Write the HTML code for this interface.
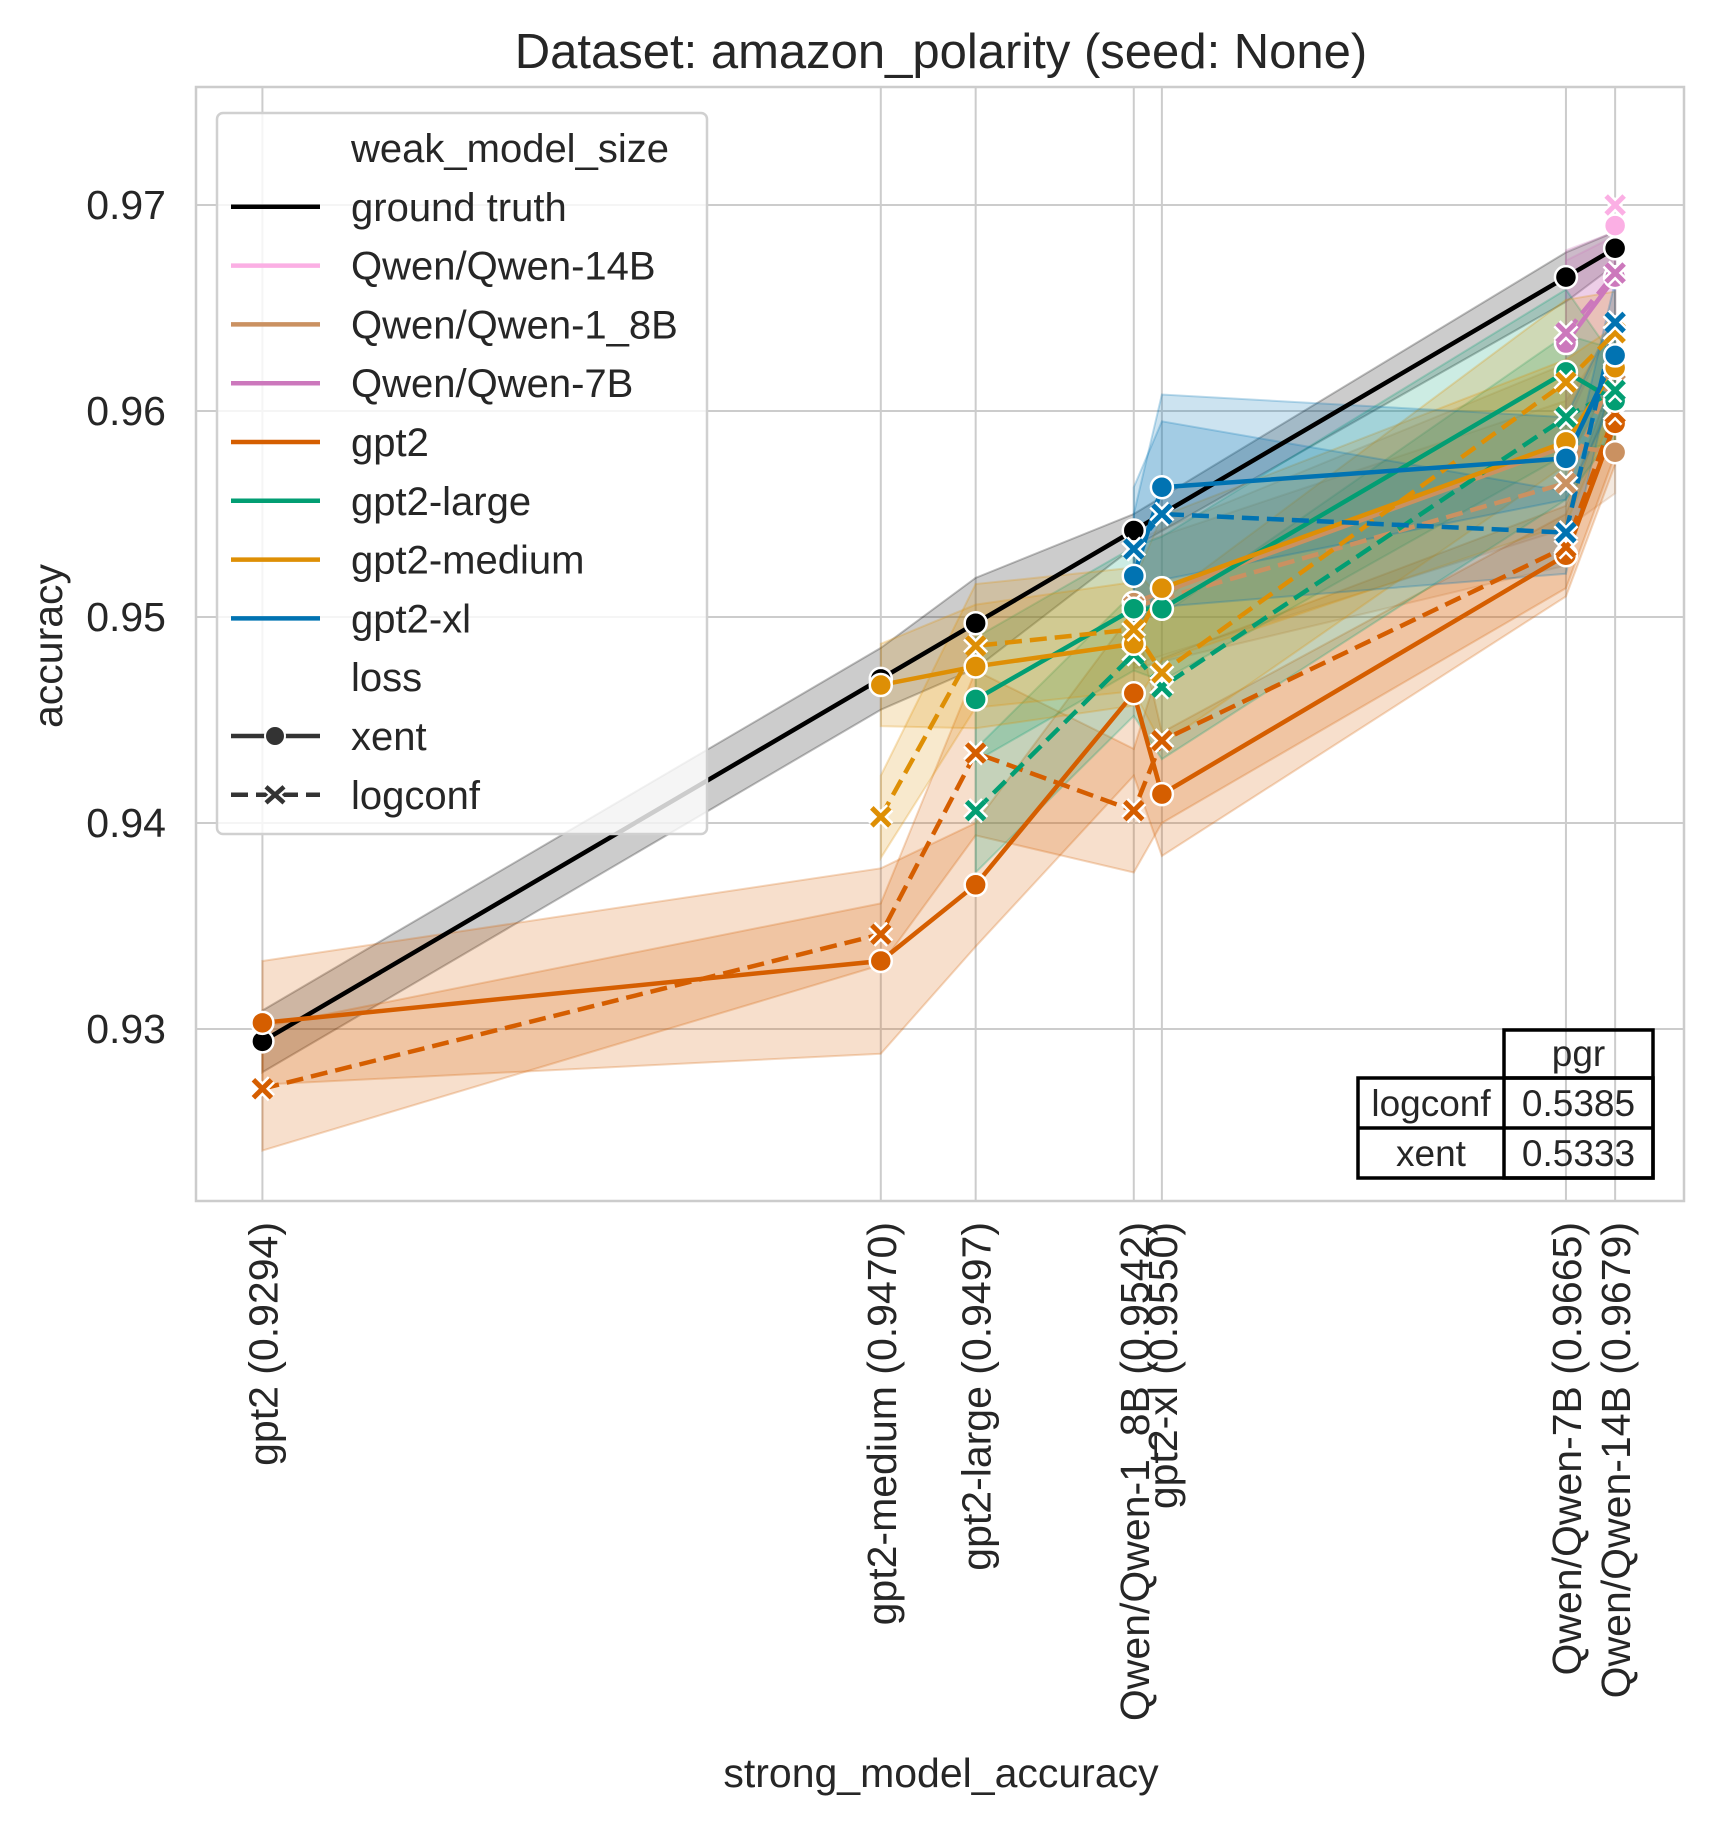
<!DOCTYPE html>
<html><head><meta charset="utf-8"><style>
body{margin:0;background:#fff}
svg{display:block;font-family:"Liberation Sans",Arial,sans-serif}
</style></head><body>
<svg id="chart" width="1712" height="1821" viewBox="0 0 1712 1821">
<text x="941" y="68" font-size="49" text-anchor="middle" fill="#262626">Dataset: amazon_polarity (seed: None)</text>
<g id="grid"></g>
<g id="bands"></g>
<g id="lines"></g>
<g id="marks"></g>
<g id="axes"></g>
<text x="941" y="1787" font-size="41" text-anchor="middle" fill="#262626">strong_model_accuracy</text>
<text transform="translate(62,646) rotate(-90)" font-size="41" text-anchor="middle" fill="#262626">accuracy</text>
</svg>
<script>
const strongNames=["gpt2","gpt2-medium","gpt2-large","Qwen/Qwen-1_8B","gpt2-xl","Qwen/Qwen-7B","Qwen/Qwen-14B"];
const strongAcc=[0.9294,0.9470,0.9497,0.9542,0.9550,0.9665,0.9679];
const yTicks=[0.93,0.94,0.95,0.96,0.97];
const yTickLabels=["0.93","0.94","0.95","0.96","0.97"];
const seriesNames=["ground truth","Qwen/Qwen-14B","Qwen/Qwen-1_8B","Qwen/Qwen-7B","gpt2","gpt2-large","gpt2-medium","gpt2-xl"];
const gtXent=[0.9294,0.9470,0.9497,0.9542,null,0.9665,0.9679];
const q14Xent=[null,null,null,null,null,null,0.9690];
const q14Log=[null,null,null,null,null,null,0.9700];
const q18Xent=[null,null,null,0.9507,null,0.9583,0.9580];
const q18Log=[null,null,null,0.9505,null,0.9565,0.9620];
const q7Xent=[null,null,null,null,null,0.9633,0.9665];
const q7Log=[null,null,null,null,null,0.9638,0.9667];
const g2Xent=[0.9303,0.9333,0.9370,0.9463,0.9414,0.9530,0.9594];
const g2Log=[0.9271,0.9346,0.9434,0.9406,0.9440,0.9534,0.9599];
const lgXent=[null,null,0.9460,0.9504,0.9504,0.9619,0.9605];
const lgLog=[null,null,0.9406,0.9482,0.9466,0.9597,0.9610];
const mdXent=[null,0.9467,0.9476,0.9487,0.9514,0.9585,0.9621];
const mdLog=[null,0.9403,0.9486,0.9494,0.9473,0.9614,0.9638];
const xlXent=[null,null,null,0.9520,0.9563,0.9577,0.9627];
const xlLog=[null,null,null,0.9533,0.9550,0.9541,0.9643];
const gtErr=[0.0015,0.0015,0.0022,0.0008,0,0.0012,0.0008];
const g2XentErr=[0.003,0.0045,0.003,0.004,0.003,0.002,0.002];
const g2LogErr=[0.003,0.0015,0.004,0.003,0.004,0.002,0.002];
const otherErr=[0.002,0.002,0.003,0.003,0.0035,0.004,0.002];
const xlErr=[0,0,0,0.003,0.0045,0.002,0.002];
const pgrRows=["logconf","xent"];
const pgrVals=["0.5385","0.5333"];

const L=196,R=1684,T=87,B=1201;
const x0=0.92751,x1=0.96986,y0=0.92165,y1=0.97573;
const X=v=>L+(v-x0)/(x1-x0)*(R-L);
const Y=v=>B-(v-y0)/(y1-y0)*(B-T);
const NS="http://www.w3.org/2000/svg";
function mk(tag,attrs,parent){const e=document.createElementNS(NS,tag);for(const k in attrs)e.setAttribute(k,attrs[k]);parent.appendChild(e);return e;}
const grid=document.getElementById('grid'),axes=document.getElementById('axes');
const bands=document.getElementById('bands'),lines=document.getElementById('lines'),marks=document.getElementById('marks');

yTicks.forEach((t,i)=>{
  const l=mk('line',{x1:L,x2:R,y1:Y(t),y2:Y(t),stroke:'#cccccc','stroke-width':2},grid);
  
  
  const tx=mk('text',{x:L-30,y:Y(t)+14,'font-size':41,'text-anchor':'end',fill:'#262626'},axes);
  tx.textContent=yTickLabels[i];
  
  
});
strongAcc.forEach((a,i)=>{
  const l=mk('line',{x1:X(a),x2:X(a),y1:T,y2:B,stroke:'#cccccc','stroke-width':2},grid);
  
  
  const tx=mk('text',{transform:`translate(${X(a)+15},1222) rotate(-90)`,'font-size':41,'text-anchor':'end',fill:'#262626'},axes);
  tx.textContent=strongNames[i]+" ("+a.toFixed(4)+")";
  
  
});
const frame=mk('rect',{x:L,y:T,width:R-L,height:B-T,fill:'none',stroke:'#cccccc','stroke-width':2.5},axes);



const series=[
 {c:'#000000',d:[[gtXent,'x',gtErr]]},
 {c:'#fbafe4',d:[[q14Xent,'x',otherErr],[q14Log,'l',otherErr]]},
 {c:'#ca9161',d:[[q18Xent,'x',otherErr],[q18Log,'l',otherErr]]},
 {c:'#cc78bc',d:[[q7Xent,'x',otherErr],[q7Log,'l',otherErr]]},
 {c:'#d55e00',d:[[g2Xent,'x',g2XentErr],[g2Log,'l',g2LogErr]]},
 {c:'#029e73',d:[[lgXent,'x',otherErr],[lgLog,'l',otherErr]]},
 {c:'#de8f05',d:[[mdXent,'x',otherErr],[mdLog,'l',otherErr]]},
 {c:'#0173b2',d:[[xlXent,'x',xlErr],[xlLog,'l',xlErr]]}
];
series.forEach((s,si)=>{
  s.d.forEach(([vals,kind,err])=>{
    const idx=vals.map((v,i)=>v==null?null:i).filter(i=>i!=null);
    if(idx.length>1){
      const up=idx.map(i=>X(strongAcc[i])+','+Y(vals[i]+err[i]));
      const dn=idx.slice().reverse().map(i=>X(strongAcc[i])+','+Y(vals[i]-err[i]));
      const p=mk('polygon',{points:up.concat(dn).join(' '),fill:s.c,'fill-opacity':0.2,stroke:s.c,'stroke-opacity':0.25,'stroke-width':2},bands);
      
      
      const pl=mk('polyline',{points:idx.map(i=>X(strongAcc[i])+','+Y(vals[i])).join(' '),fill:'none',stroke:s.c,'stroke-width':4.5,'stroke-dasharray':kind=='l'?'17,8':'none'},lines);
      
      
    }
    idx.forEach(i=>{
      const cx=X(strongAcc[i]),cy=Y(vals[i]);
      let m;
      if(kind=='x'){
        m=mk('circle',{cx:cx,cy:cy,r:11,fill:s.c,stroke:'#fff','stroke-width':2.5},marks);
      } else {
        const d=`M${cx-9},${cy-9}L${cx+9},${cy+9}M${cx+9},${cy-9}L${cx-9},${cy+9}`;
        const g=mk('g',{},marks);
        mk('path',{d:d,stroke:'#fff','stroke-width':10},g);
        mk('path',{d:d,stroke:s.c,'stroke-width':5},g);
        m=g;
      }
      
      
    });
  });
});

// legend
const lg=mk('g',{},document.getElementById('chart'));


mk('rect',{x:217,y:113,width:490,height:721,rx:6,fill:'#ffffff','fill-opacity':0.8,stroke:'#d0d0d0','stroke-width':2.5},lg);
const legItems=[["weak_model_size",null,null],["ground truth",'#000000','s'],["Qwen/Qwen-14B",'#fbafe4','s'],["Qwen/Qwen-1_8B",'#ca9161','s'],["Qwen/Qwen-7B",'#cc78bc','s'],["gpt2",'#d55e00','s'],["gpt2-large",'#029e73','s'],["gpt2-medium",'#de8f05','s'],["gpt2-xl",'#0173b2','s'],["loss",null,null],["xent",'#333333','x'],["logconf",'#333333','l']];
legItems.forEach((it,i)=>{
  const y=148+i*58.8;
  const g=mk('g',{},lg);
  
  
  if(it[1]){
    mk('line',{x1:231,x2:320,y1:y,y2:y,stroke:it[1],'stroke-width':4.5,'stroke-dasharray':it[2]=='l'?'17,8':'none'},g);
    if(it[2]=='x')mk('circle',{cx:275,cy:y,r:10,fill:it[1],stroke:'#fff','stroke-width':2},g);
    if(it[2]=='l'){const d=`M${266},${y-8}L${284},${y+8}M${284},${y-8}L${266},${y+8}`;mk('path',{d:d,stroke:'#fff','stroke-width':9},g);mk('path',{d:d,stroke:it[1],'stroke-width':4.5},g);}
  }
  const t=mk('text',{x:351,y:y+14,'font-size':40,fill:'#262626'},g);
  t.textContent=it[0];
});

// pgr table
const tb=mk('g',{},document.getElementById('chart'));


const tl=1358,tm=1504,tr=1653,tt=1030,r1=1078,r2=1128,r3=1178;
mk('rect',{x:tm,y:tt,width:tr-tm,height:r3-tt,fill:'none',stroke:'#000','stroke-width':3.5},tb);
mk('rect',{x:tl,y:r1,width:tr-tl,height:r3-r1,fill:'none',stroke:'#000','stroke-width':3.5},tb);
mk('line',{x1:tl,x2:tr,y1:r2,y2:r2,stroke:'#000','stroke-width':3.5},tb);
mk('line',{x1:tm,x2:tr,y1:r1,y2:r1,stroke:'#000','stroke-width':3.5},tb);
const hd=mk('text',{x:(tm+tr)/2,y:r1-12,'font-size':37,'text-anchor':'middle',fill:'#262626'},tb);hd.textContent="pgr";
pgrRows.forEach((r,i)=>{
  const yy=(i==0?r2:r3)-12;
  const a=mk('text',{x:(tl+tm)/2,y:yy,'font-size':37,'text-anchor':'middle',fill:'#262626'},tb);a.textContent=r;
  const b=mk('text',{x:(tm+tr)/2,y:yy,'font-size':37,'text-anchor':'middle',fill:'#262626'},tb);b.textContent=pgrVals[i];
});
</script>
</body></html>
